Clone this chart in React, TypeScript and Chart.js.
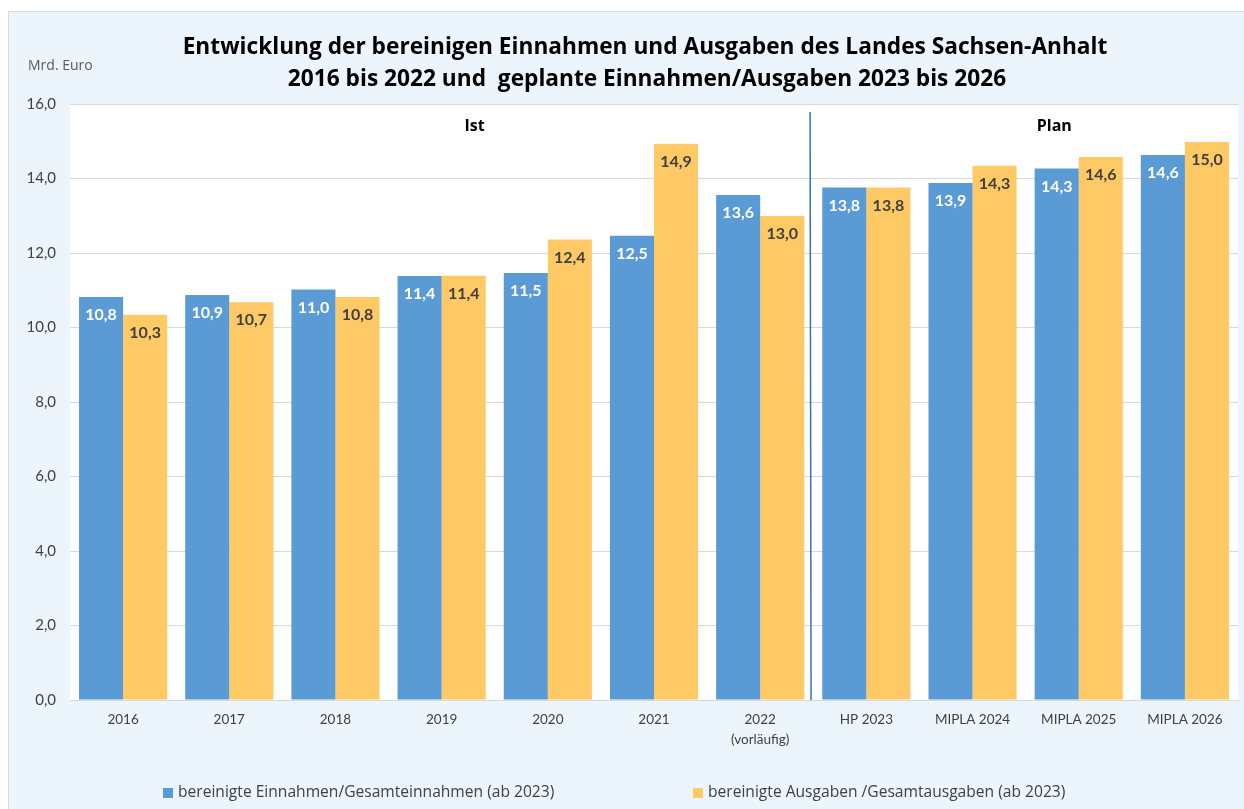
import React, { useEffect, useRef } from "react";
import { Chart, registerables } from "chart.js";

Chart.register(...registerables);

const categories: (string | string[])[] = [
  "2016", "2017", "2018", "2019", "2020", "2021", ["2022", "(vorläufig)"],
  "HP 2023", "MIPLA 2024", "MIPLA 2025", "MIPLA 2026",
];
const einnahmen = [10.82, 10.87, 11.02, 11.38, 11.46, 12.46, 13.56, 13.76, 13.88, 14.27, 14.63];
const ausgaben = [10.34, 10.68, 10.82, 11.39, 12.36, 14.93, 12.99, 13.76, 14.34, 14.58, 14.98];
const seriesNames = [
  "bereinigte Einnahmen/Gesamteinnahmen (ab 2023)",
  "bereinigte Ausgaben /Gesamtausgaben (ab 2023)",
];
const titleLines = [
  "Entwicklung der bereinigen Einnahmen und Ausgaben des Landes Sachsen-Anhalt",
  "2016 bis 2022 und  geplante Einnahmen/Ausgaben 2023 bis 2026",
];
const yTicks = [0, 2, 4, 6, 8, 10, 12, 14, 16];
const unitLabel = "Mrd. Euro";
const sectionLabels = ["Ist", "Plan"];

const BLUE = "#5B9BD5";
const ORANGE = "#FFC966";
const TEXT = "#404040";
const FONT = "Lato, 'Open Sans', sans-serif";
const WIDE = "'Open Sans', Lato, sans-serif";

const fmt = (v: number) => v.toFixed(1).replace(".", ",");

const overlayPlugin = {
  id: "overlay",
  beforeDraw(chart: any) {
    const { ctx, chartArea } = chart;
    ctx.save();
    ctx.fillStyle = "#FFFFFF";
    ctx.fillRect(chartArea.left, chartArea.top, chartArea.right - chartArea.left, chartArea.bottom - chartArea.top);
    ctx.restore();
  },
  afterDraw(chart: any) {
    const { ctx, chartArea } = chart;
    const xs = chart.scales.x;
    ctx.save();
    // Title
    ctx.fillStyle = "#000000";
    ctx.font = `bold 22.7px ${WIDE}`;
    ctx.textAlign = "center";
    ctx.textBaseline = "middle";
    ctx.fillText(titleLines[0], 636, 36);
    ctx.fillText(titleLines[1], 638, 68);
    // unit
    ctx.fillStyle = "#595959";
    ctx.font = `14px ${WIDE}`;
    ctx.textAlign = "left";
    ctx.fillText(unitLabel, 19, 54);
    // section labels
    ctx.fillStyle = "#000000";
    ctx.font = `bold 16px ${WIDE}`;
    ctx.textAlign = "center";
    ctx.fillText(sectionLabels[0], xs.getPixelForValue(3.31), chartArea.top + 22);
    ctx.fillText(sectionLabels[1], xs.getPixelForValue(8.77), chartArea.top + 22);
    // divider line
    const lx = xs.getPixelForValue(6.47);
    ctx.strokeStyle = "#2E75B6";
    ctx.lineWidth = 1.5;
    ctx.beginPath();
    ctx.moveTo(lx, chartArea.top + 8);
    ctx.lineTo(lx + 1, chartArea.bottom);
    ctx.stroke();
    // data labels
    ctx.font = `bold 16px ${FONT}`;
    chart.data.datasets.forEach((ds: any, di: number) => {
      const meta = chart.getDatasetMeta(di);
      meta.data.forEach((bar: any, i: number) => {
        ctx.fillStyle = di === 0 ? "#FFFFFF" : TEXT;
        ctx.fillText(fmt(ds.data[i]), bar.x, bar.y + 18);
      });
    });
    // legend
    const legendX = [154, 684];
    ctx.font = `15.6px ${WIDE}`;
    ctx.textAlign = "left";
    chart.data.datasets.forEach((ds: any, di: number) => {
      ctx.fillStyle = ds.backgroundColor;
      ctx.fillRect(legendX[di], 776, 10, 10);
      ctx.fillStyle = TEXT;
      ctx.fillText(ds.label, legendX[di] + 15, 781);
    });
    ctx.restore();
  },
};

export default function App() {
  const ref = useRef<HTMLCanvasElement | null>(null);
  useEffect(() => {
    if (!ref.current) return;
    const chart = new Chart(ref.current, {
      type: "bar",
      data: {
        labels: categories as any,
        datasets: [
          { label: seriesNames[0], data: einnahmen, backgroundColor: BLUE, categoryPercentage: 0.83, barPercentage: 1 },
          { label: seriesNames[1], data: ausgaben, backgroundColor: ORANGE, categoryPercentage: 0.83, barPercentage: 1 },
        ],
      },
      options: {
        animation: false,
        responsive: true,
        maintainAspectRatio: false,
        layout: { padding: { top: 92, right: 6, left: 0, bottom: 0 } },
        plugins: { legend: { display: false }, title: { display: false }, tooltip: { enabled: false } },
        scales: {
          x: {
            grid: { display: false, drawTicks: false },
            border: { display: true, color: "#D9D9D9", width: 1 },
            ticks: { color: TEXT, font: { family: FONT, size: 13.5, lineHeight: 1.45 }, padding: 10, maxRotation: 0, autoSkip: false },
            afterFit: (s: any) => { s.height = 109; },
          },
          y: {
            min: 0,
            max: 16,
            afterBuildTicks: (s: any) => { s.ticks = yTicks.map((v) => ({ value: v })); },
            grid: { color: "#D9D9D9", lineWidth: 1, drawTicks: false },
            border: { display: false },
            ticks: { color: TEXT, font: { family: FONT, size: 15 }, padding: 14, callback: (v: any) => fmt(Number(v)) },
            afterFit: (s: any) => { s.width = 61; },
          },
        },
      },
      plugins: [overlayPlugin],
    });
    return () => chart.destroy();
  }, []);
  return (
    <div
      style={{
        position: "fixed",
        left: 8,
        top: 11,
        width: 1235,
        height: 797,
        background: "#EBF5FB",
        borderLeft: "1px solid #D9D9D9",
        borderTop: "1px solid #D9D9D9",
      }}
    >
      <canvas ref={ref} />
    </div>
  );
}
